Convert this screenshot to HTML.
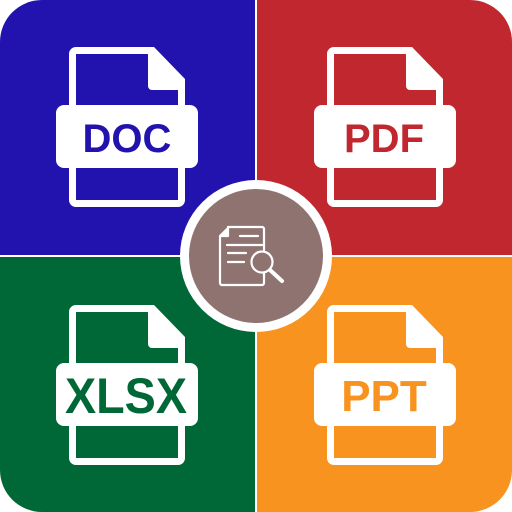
<!DOCTYPE html>
<html><head><style>html,body{margin:0;padding:0;background:#fff}svg{display:block}</style></head><body>
<svg width="512" height="512" viewBox="0 0 512 512" xmlns="http://www.w3.org/2000/svg">
<defs>
<clipPath id="c"><rect x="0" y="0" width="512" height="512" rx="42"/></clipPath>
<g id="doc">
<path d="M7,3.5 H80 L112.5,37 V153 a3.5,3.5 0 0 1 -3.5,3.5 H7 a3.5,3.5 0 0 1 -3.5,-3.5 V7 a3.5,3.5 0 0 1 3.5,-3.5 Z" fill="none" stroke="#fff" stroke-width="7" stroke-linejoin="round"/>
<path d="M79,0 H85 L116,32 V43 H83 a4,4 0 0 1 -4,-4 Z" fill="#fff"/>
<rect x="-13" y="58" width="142" height="63" rx="8" fill="#fff"/>
</g>
</defs>
<g clip-path="url(#c)">
<rect x="0" y="0" width="255" height="255" fill="#2212AE"/>
<rect x="257" y="0" width="255" height="255" fill="#C1272F"/>
<rect x="0" y="257" width="255" height="255" fill="#006837"/>
<rect x="257" y="257" width="255" height="255" fill="#F7931E"/>
</g>
<use href="#doc" x="69" y="47"/>
<use href="#doc" x="327" y="47"/>
<use href="#doc" x="69" y="305"/>
<use href="#doc" x="327" y="305"/>
<g font-family="Liberation Sans, sans-serif" font-weight="bold" text-anchor="middle">
<text x="127" y="152" font-size="40" fill="#2212AE">DOC</text>
<text x="384" y="152" font-size="40" fill="#C1272F">PDF</text>
<text x="126" y="413" font-size="50" fill="#006837" textLength="122" lengthAdjust="spacingAndGlyphs">XLSX</text>
<text x="384" y="411" font-size="44" fill="#F7931E">PPT</text>
</g>
<circle cx="256" cy="256" r="76" fill="#fff"/>
<circle cx="256" cy="256" r="67" fill="#8F7371"/>
<g fill="none" stroke="#fff" stroke-width="2.2" stroke-linecap="round" stroke-linejoin="round">
<path d="M228,227 H262 a2,2 0 0 1 2,2 V250"/>
<path d="M264,273 V283 a2,2 0 0 1 -2,2 H222 a2,2 0 0 1 -2,-2 V236 L228,228"/>
<path d="M220,236 H228 V228" fill="#fff"/>
<path d="M240,236 H258 M227,245 H262 M228,253 H246 M228,262 H244"/>
<circle cx="262" cy="262" r="10.5"/>
<path d="M270,270 L282,281" stroke-width="4"/>
</g>
</svg>
</body></html>
